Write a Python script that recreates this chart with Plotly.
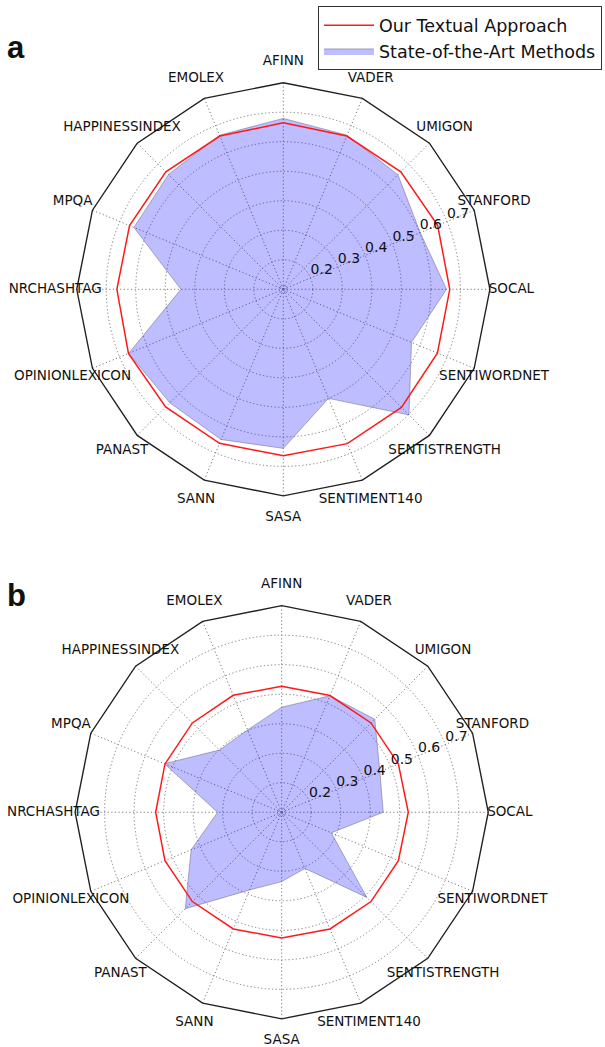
import plotly.graph_objects as go

categories = ["AFINN", "VADER", "UMIGON", "STANFORD", "SOCAL", "SENTIWORDNET",
              "SENTISTRENGTH", "SENTIMENT140", "SASA", "SANN", "PANAST",
              "OPINIONLEXICON", "NRCHASHTAG", "MPQA", "HAPPINESSINDEX", "EMOLEX"]

ours_a = [0.664, 0.662, 0.663, 0.666, 0.664, 0.665, 0.666, 0.666,
          0.664, 0.665, 0.664, 0.668, 0.664, 0.664, 0.663, 0.662]
sota_a = [0.679, 0.665, 0.649, 0.602, 0.653, 0.570, 0.702, 0.500,
          0.639, 0.651, 0.644, 0.667, 0.447, 0.648, 0.650, 0.665]

ours_b = [0.527, 0.528, 0.528, 0.528, 0.529, 0.528, 0.528, 0.528,
          0.526, 0.528, 0.528, 0.528, 0.527, 0.528, 0.528, 0.529]
sota_b = [0.456, 0.527, 0.546, 0.460, 0.444, 0.282, 0.508, 0.306,
          0.335, 0.385, 0.562, 0.432, 0.317, 0.530, 0.398, 0.402]

radial_ticks = [0.2, 0.3, 0.4, 0.5, 0.6, 0.7]
radial_ticktext = ["0.2", "0.3", "0.4", "0.5", "0.6", "0.7"]
r_min, r_max = 0.1, 0.8
panel_letters = ["a", "b"]

n = len(categories)
step = 360.0 / n
theta = [i * step for i in range(n)]
theta_closed = theta + [theta[0]]

FONT = "DejaVu Sans"
GRID = "#7a7a7a"
DOT = "1.2px,2.4px"
fig = go.Figure()


def add_panel(subplot, ours, sota, show_legend):
    # dotted spokes (angular grid) from centre to the frame
    sr, st = [], []
    for t in theta:
        sr += [r_min, r_max, None]
        st += [t, t, None]
    fig.add_trace(go.Scatterpolar(
        r=sr, theta=st, mode="lines",
        line=dict(color=GRID, width=1, dash=DOT), hoverinfo="skip",
        showlegend=False, subplot=subplot))
    # outer polygon frame
    fig.add_trace(go.Scatterpolar(
        r=[r_max] * (n + 1), theta=theta_closed, mode="lines",
        line=dict(color="#222222", width=1.4), hoverinfo="skip",
        showlegend=False, cliponaxis=False, subplot=subplot))
    # state-of-the-art fill
    fig.add_trace(go.Scatterpolar(
        r=sota + [sota[0]], theta=theta_closed, mode="lines", fill="toself",
        fillcolor="rgba(0,0,255,0.26)",
        line=dict(color="rgba(110,110,140,0.55)", width=1),
        name="State-of-the-Art Methods", legendrank=2,
        showlegend=show_legend, subplot=subplot))
    # our approach
    fig.add_trace(go.Scatterpolar(
        r=ours + [ours[0]], theta=theta_closed, mode="lines",
        line=dict(color="#ff1a1a", width=1.5),
        name="Our Textual Approach", legendrank=1,
        showlegend=show_legend, subplot=subplot))
    # category labels
    fig.add_trace(go.Scatterpolar(
        r=[0.873] * n, theta=theta, mode="text", text=categories,
        textposition="middle center",
        textfont=dict(family=FONT, size=13.5, color="#111111"),
        hoverinfo="skip", showlegend=False, cliponaxis=False, subplot=subplot))
    # radial tick labels (along the STANFORD-SOCAL bisector direction)
    fig.add_trace(go.Scatterpolar(
        r=radial_ticks, theta=[theta[3]] * len(radial_ticks),
        mode="text", text=radial_ticktext, textposition="top right",
        textfont=dict(family=FONT, size=14, color="#111111"),
        hoverinfo="skip", showlegend=False, cliponaxis=False, subplot=subplot))


add_panel("polar", ours_a, sota_a, True)
add_panel("polar2", ours_b, sota_b, False)

polar_common = dict(
    bgcolor="white",
    radialaxis=dict(range=[r_min, 0.88], tickvals=[0.11] + radial_ticks,
                    showticklabels=False, ticks="", showline=False,
                    gridcolor=GRID, griddash=DOT, gridwidth=1),
    angularaxis=dict(type="linear", rotation=90, direction="clockwise",
                     tickvals=theta, showticklabels=False, ticks="",
                     showline=False, showgrid=False),
)

fig.update_layout(
    width=605, height=1047,
    margin=dict(l=0, r=0, t=0, b=0),
    paper_bgcolor="white", plot_bgcolor="white",
    font=dict(family=FONT, color="#111111"),
    polar=dict(domain=dict(x=[0.0878, 0.8488], y=[0.5038, 0.9436]), **polar_common),
    polar2=dict(domain=dict(x=[0.0851, 0.8461], y=[0.0043, 0.4441]), **polar_common),
    legend=dict(x=0.995, y=0.994, xanchor="right", yanchor="top",
                bordercolor="#333333", borderwidth=1, bgcolor="white",
                font=dict(family=FONT, size=17.5, color="#111111"),
                tracegroupgap=0, itemwidth=50),
    showlegend=True,
    annotations=[
        dict(text="<b>a</b>", x=0.008, y=0.9551, xref="paper", yref="paper",
             xanchor="left", yanchor="middle", showarrow=False,
             font=dict(family="Liberation Sans", size=31, color="#111111")),
        dict(text="<b>b</b>", x=0.008, y=0.4316, xref="paper", yref="paper",
             xanchor="left", yanchor="middle", showarrow=False,
             font=dict(family="Liberation Sans", size=31, color="#111111")),
    ],
)

fig.write_html("out.html")
